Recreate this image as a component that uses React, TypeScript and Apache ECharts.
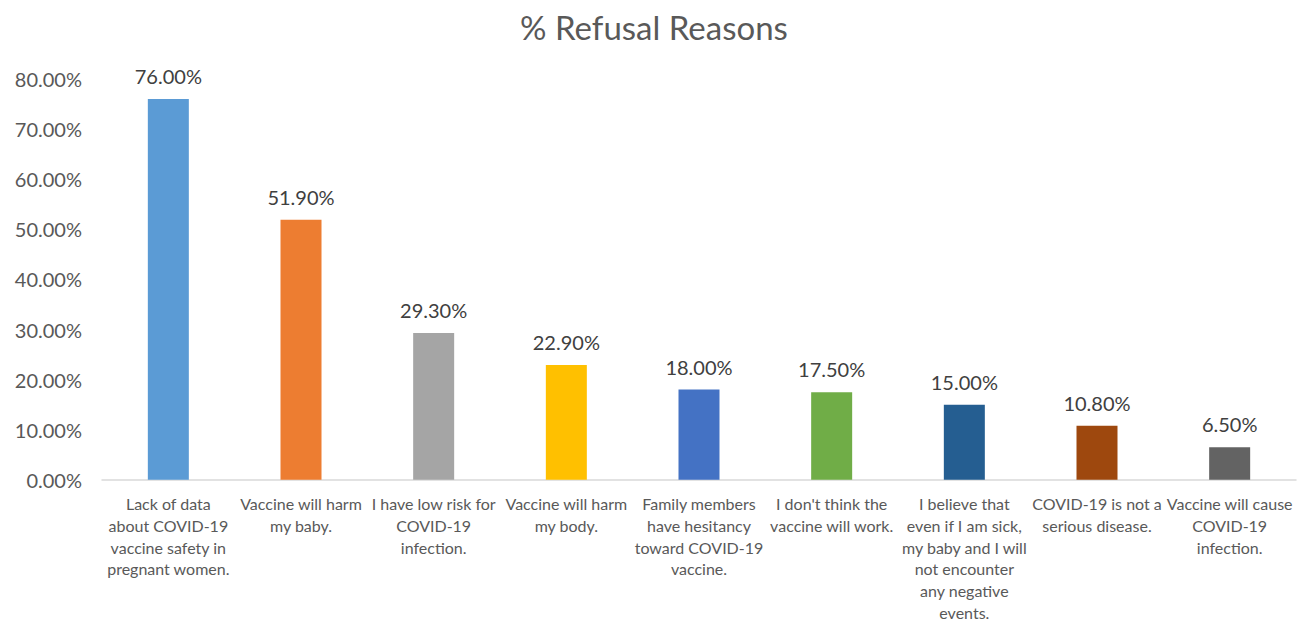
import React, { useEffect, useRef } from "react";
import * as echarts from "echarts";

const categories: string[] = [
  "Lack of data\nabout COVID-19\nvaccine safety in\npregnant women.",
  "Vaccine will harm\nmy baby.",
  "I have low risk for\nCOVID-19\ninfection.",
  "Vaccine will harm\nmy body.",
  "Family members\nhave hesitancy\ntoward COVID-19\nvaccine.",
  "I don't think the\nvaccine will work.",
  "I believe that\neven if I am sick,\nmy baby and I will\nnot encounter\nany negative\nevents.",
  "COVID-19 is not a\nserious disease.",
  "Vaccine will cause\nCOVID-19\ninfection.",
];

const values: number[] = [76.0, 51.9, 29.3, 22.9, 18.0, 17.5, 15.0, 10.8, 6.5];

const colors: string[] = [
  "#5B9BD5",
  "#ED7D31",
  "#A5A5A5",
  "#FFC000",
  "#4472C4",
  "#70AD47",
  "#255E91",
  "#9E480E",
  "#636363",
];

const FONT = "Lato, 'Open Sans', sans-serif";

export default function App() {
  const ref = useRef<HTMLDivElement>(null);
  useEffect(() => {
    if (!ref.current) return;
    const chart = echarts.init(ref.current, undefined, { renderer: "svg" });
    chart.setOption({
      animation: false,
      title: {
        text: "% Refusal Reasons",
        left: "center",
        top: 2,
        padding: 0,
        textStyle: { fontFamily: FONT, fontSize: 33, fontWeight: "normal", color: "#595959" },
      },
      grid: { left: 94, right: 4, top: 71, bottom: 133, containLabel: false },
      xAxis: {
        type: "category",
        data: categories,
        axisLine: { lineStyle: { color: "#D9D9D9", width: 1.5 } },
        axisTick: { show: false },
        axisLabel: {
          interval: 0,
          margin: 13,
          fontFamily: FONT,
          fontSize: 16,
          lineHeight: 21.7,
          color: "#595959",
          align: "center",
        },
      },
      yAxis: {
        type: "value",
        min: 0,
        max: 80,
        interval: 10,
        splitLine: { show: false },
        axisLine: { show: false },
        axisTick: { show: false },
        axisLabel: {
          margin: 20,
          fontFamily: FONT,
          fontSize: 20,
          color: "#595959",
          formatter: (v: number) => v.toFixed(2) + "%",
        },
      },
      series: [
        {
          type: "bar",
          barWidth: 41,
          data: values.map((v, i) => ({ value: v, itemStyle: { color: colors[i] } })),
          label: {
            show: true,
            position: "top",
            distance: 13,
            fontFamily: FONT,
            fontSize: 20,
            color: "#404040",
            formatter: (p: any) => Number(p.value).toFixed(2) + "%",
          },
        },
      ],
    });
    return () => chart.dispose();
  }, []);
  return <div ref={ref} style={{ width: 1292, height: 615 }} />;
}
